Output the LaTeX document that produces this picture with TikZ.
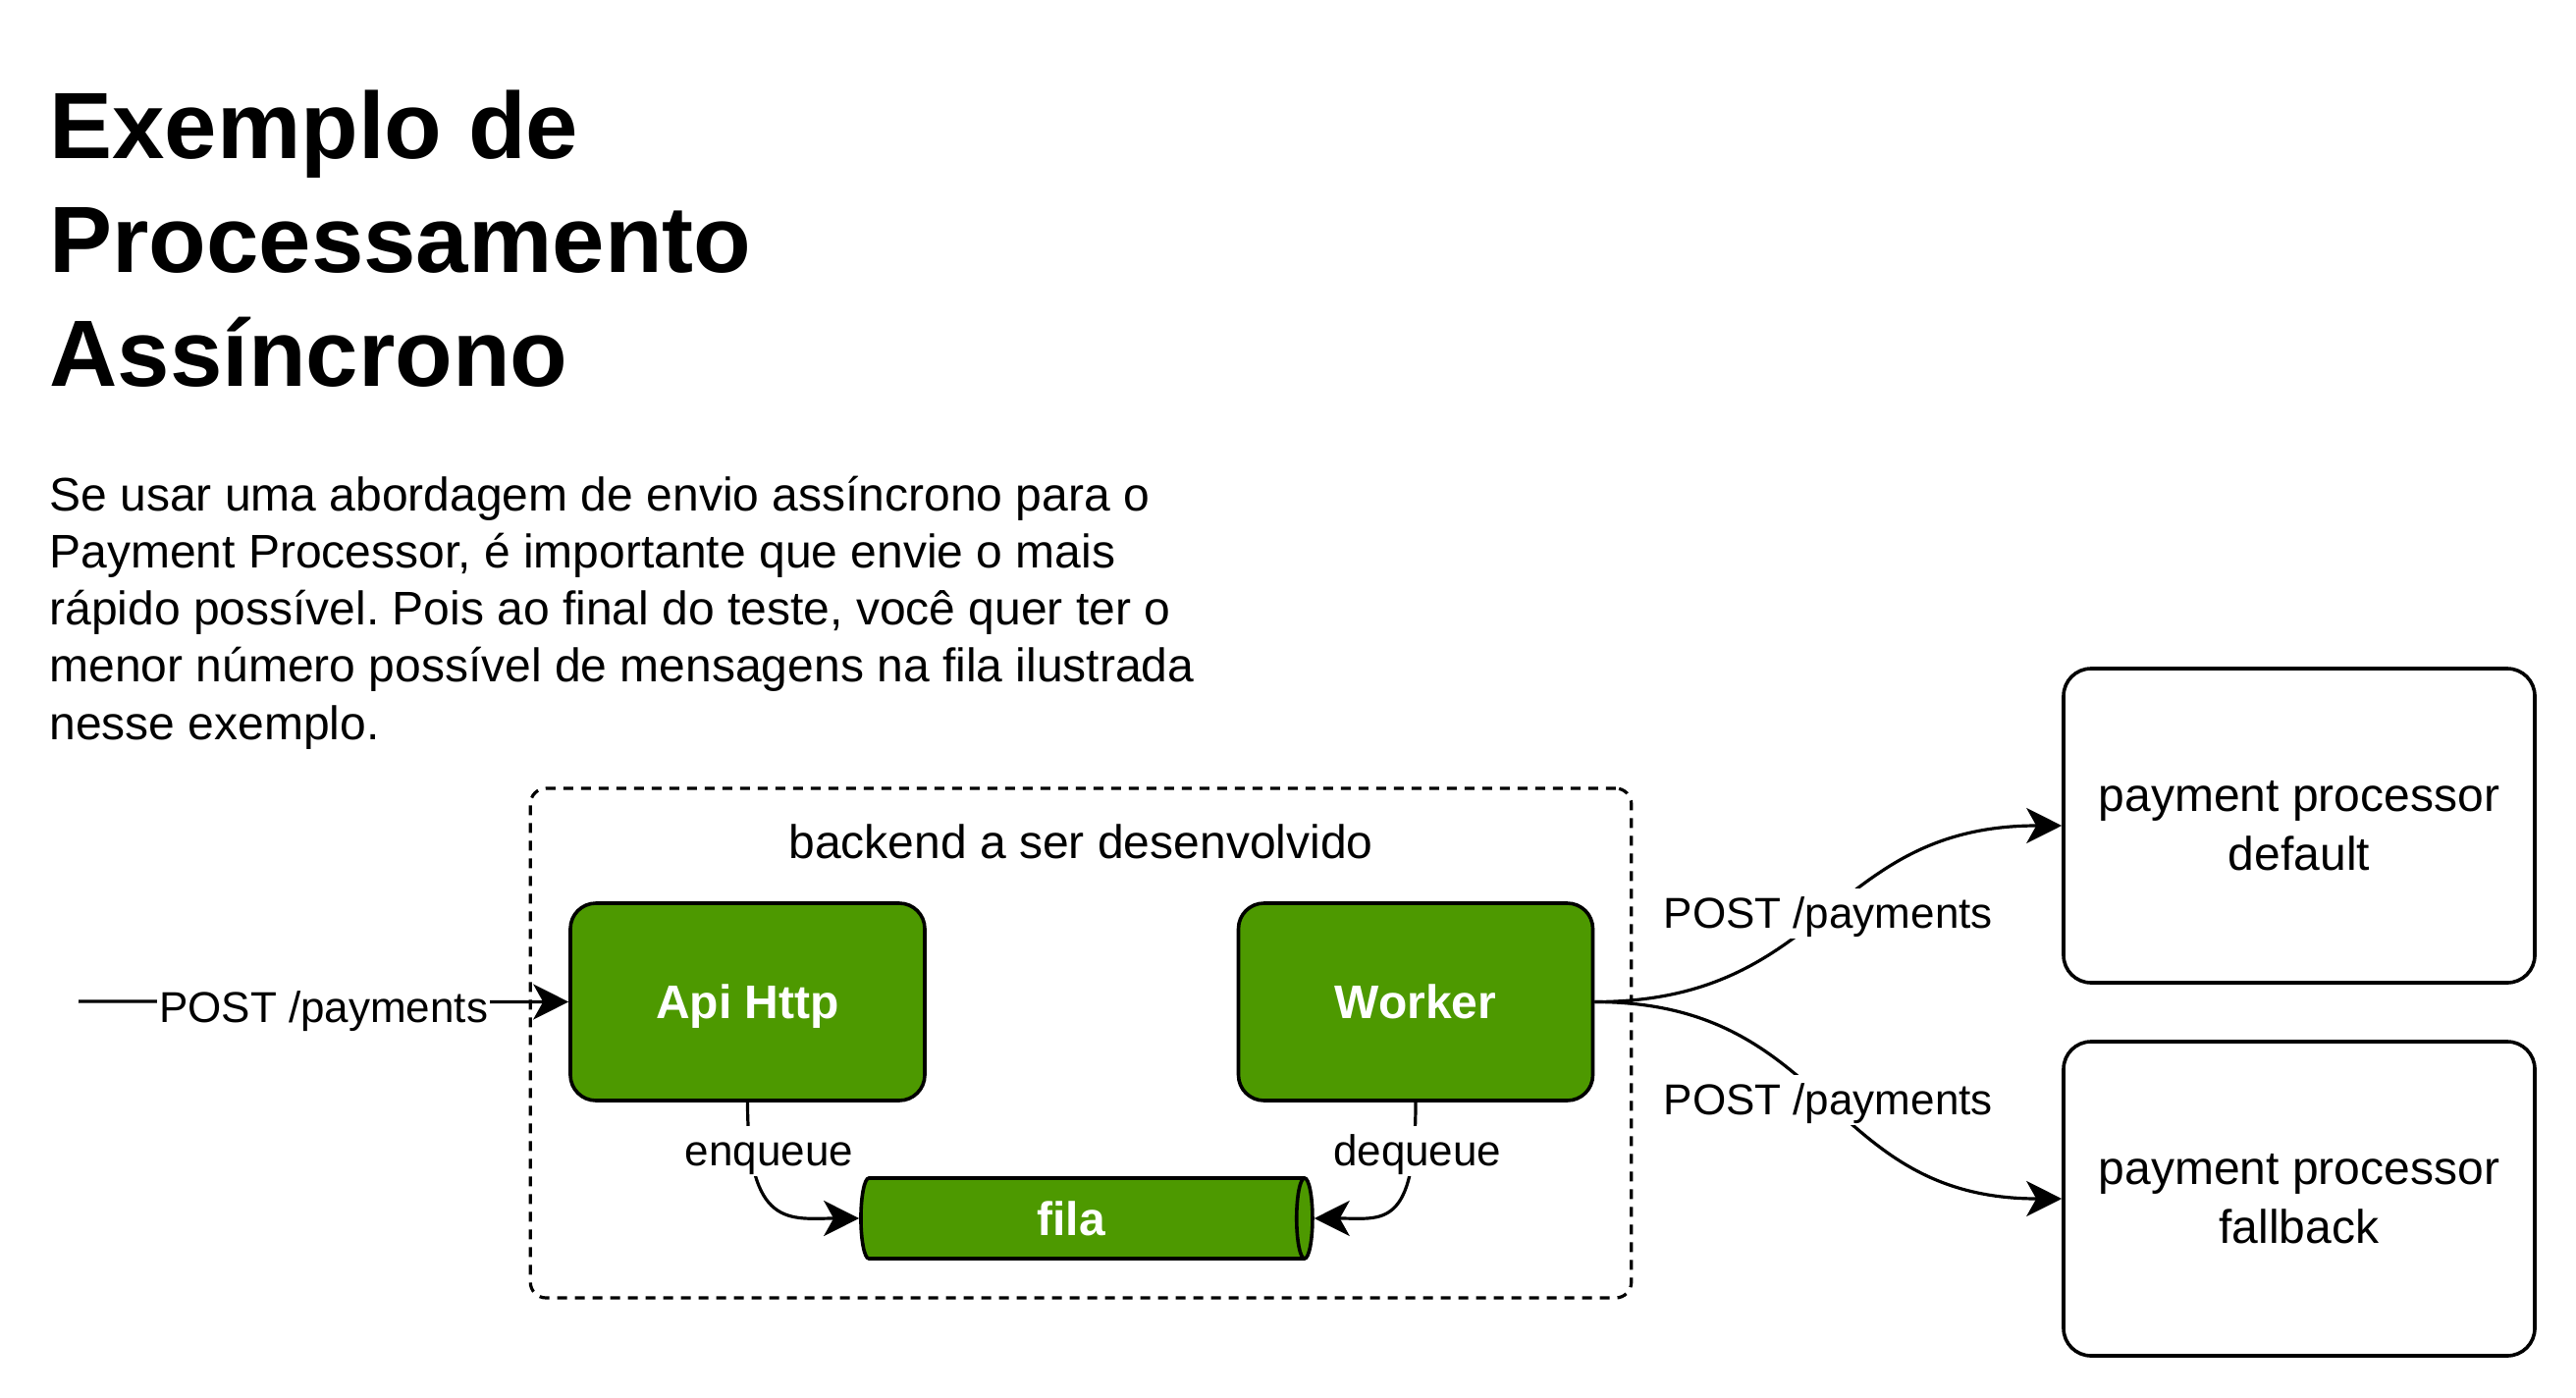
\documentclass[tikz,border=0pt]{standalone}
\usepackage{fontspec}
\setmainfont{Liberation Sans}
\usetikzlibrary{arrows.meta,positioning,shapes.geometric}
\definecolor{verde}{HTML}{4D9900}
\frenchspacing

\begin{document}
\begin{tikzpicture}[
  x=0.5pt, y=-0.5pt, font=\fontsize{24}{29}\selectfont,
  titulo/.style={inner sep=0pt, align=left, font=\fontsize{48}{58}\selectfont\bfseries},
  corpo/.style={inner sep=0pt, align=left, font=\fontsize{24}{29.1}\selectfont},
  svc/.style={draw, line width=1.8pt, rounded corners=13pt, fill=verde, text=white,
              font=\fontsize{24}{29}\selectfont\bfseries,
              text height=22pt, text depth=5pt,
              minimum width=180.5pt, minimum height=100.5pt},
  ext/.style={draw, line width=1.8pt, rounded corners=14pt, align=center,
              font=\fontsize{24}{30}\selectfont,
              minimum width=240pt, minimum height=160pt},
  fila/.style={draw, cylinder, aspect=0.3, line width=1.8pt, fill=verde,
               text height=22pt, text depth=5pt,
               minimum width=41pt, minimum height=230pt, inner sep=0pt},
  grp/.style={draw, dashed, dash pattern=on 5pt off 4pt, line width=1.6pt,
              rounded corners=8pt, minimum width=560.75pt, minimum height=259.5pt},
  elbl/.style={fill=white, inner xsep=1pt, inner ysep=4.25pt,
               font=\fontsize{22}{26}\selectfont,
               text height=16pt, text depth=1pt},
  ar/.style={-{Stealth[length=18pt, width=18pt, inset=5pt]}, line width=1.6pt}
]
\useasboundingbox (0,0) rectangle (2624,1424);

%--- texto -------------------------------------------------------------------
\node[titulo, anchor=base west] (titulo) at (50,393)
  {Exemplo de\\Processamento\\Assíncrono};
\node[corpo, anchor=base west] (texto) at (50,753)
  {Se usar uma abordagem de envio assíncrono para o\\
   Payment Processor, é importante que envie o mais\\
   rápido possível. Pois ao final do teste, você quer ter o\\
   menor número possível de mensagens na fila ilustrada\\
   nesse exemplo.};

%--- backend -----------------------------------------------------------------
\node[grp] (backend) at (1101,1062.5) {};
\node (lblback) at (1101,857) {backend a ser desenvolvido};
\node[svc] (api) at (761.5,1020.5) {Api Http};
\node[svc] (worker) at (1442,1020.5) {Worker};
\node[fila, label={[text=white, font=\fontsize{24}{29}\selectfont\bfseries,
                    xshift=-5.5pt]center:fila}] (q) at (1102,1241) {};

\coordinate (cliente) at (80,1020);
\draw[ar] (cliente) -- node[elbl, yshift=-3pt] {POST /payments} (api.west);
\draw[ar] (api.south) .. controls +(0,130) and +(-70,0) ..
  node[elbl, pos=0.15, xshift=9.5pt] {enqueue} (q.west);
\draw[ar] (worker.south) .. controls +(0,130) and +(70,0) ..
  node[elbl, pos=0.15, xshift=2pt] {dequeue} (q.east);

%--- payment processors ------------------------------------------------------
\node[ext] (ppdef) at (2342,841) {payment processor\\default};
\node[ext] (ppfb) at (2342,1221) {payment processor\\fallback};
\draw[ar] (worker.east) to[out=0, in=180, looseness=1.2]
  node[elbl] {POST /payments} (ppdef.west);
\draw[ar] (worker.east) to[out=0, in=180, looseness=1.2]
  node[elbl] {POST /payments} (ppfb.west);
\end{tikzpicture}
\end{document}
